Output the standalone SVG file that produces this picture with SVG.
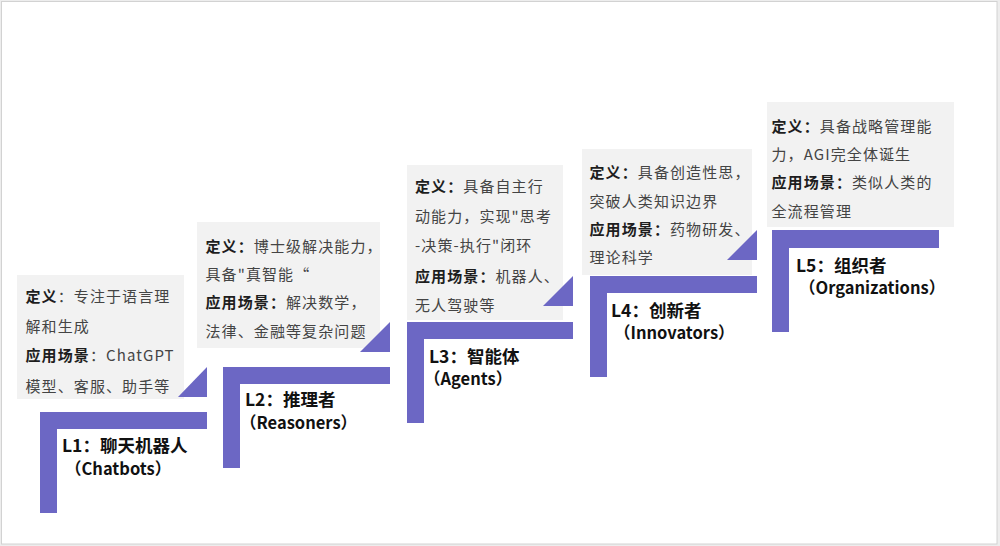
<svg xmlns="http://www.w3.org/2000/svg" width="1000" height="546" viewBox="0 0 1000 546">
<style>
.box{fill:#f2f2f2}
.bar{fill:#6c67c4}
.def{font-family:"Noto Sans CJK SC","Noto Sans",sans-serif;font-size:15px;letter-spacing:1.1px;fill:#444}
.b{font-weight:bold;fill:#1e1e1e}
.lab{font-family:"Noto Sans CJK SC","Noto Sans",sans-serif;font-size:17.5px;font-weight:bold;fill:#111}
.l2{font-size:16.5px}
</style>
<rect x="0" y="0" width="1000" height="546" fill="#ededed"/>
<rect x="1.5" y="1.5" width="995.5" height="542.5" fill="#ffffff" stroke="#d2d2d2" stroke-width="1"/>

<g id="L1">
<rect class="box" x="17" y="275" width="167" height="124"/>
<text class="def" x="25.5" y="302"><tspan class="b">定义</tspan>：专注于语言理</text>
<text class="def" x="25.5" y="332">解和生成</text>
<text class="def" x="25.5" y="361"><tspan class="b">应用场景</tspan>：ChatGPT</text>
<text class="def" x="25.5" y="392">模型、客服、助手等</text>
<path class="bar" d="M40,412 H207 V429 H57 V513 H40 Z"/>
<text class="lab"><tspan x="62" y="452">L1：聊天机器人</tspan><tspan class="l2" x="65" y="475">（Chatbots）</tspan></text>
</g>

<g id="L2">
<rect class="box" x="197" y="222" width="183" height="126"/>
<text class="def" x="205.5" y="252"><tspan class="b">定义：</tspan>博士级解决能力，</text>
<text class="def" x="205.5" y="280">具备"真智能“</text>
<text class="def" x="205.5" y="308"><tspan class="b">应用场景：</tspan>解决数学，</text>
<text class="def" x="205.5" y="337">法律、金融等复杂问题</text>
<path class="bar" d="M223,367 H390 V384 H240 V468 H223 Z"/>
<text class="lab"><tspan x="245" y="406">L2：推理者</tspan><tspan class="l2" x="240" y="429">（Reasoners）</tspan></text>
</g>

<g id="L3">
<rect class="box" x="407" y="165" width="156" height="155"/>
<text class="def" x="415" y="192"><tspan class="b">定义：</tspan>具备自主行</text>
<text class="def" x="415" y="222">动能力，实现"思考</text>
<text class="def" x="415" y="251">-决策-执行"闭环</text>
<text class="def" x="415" y="282"><tspan class="b">应用场景：</tspan>机器人、</text>
<text class="def" x="415" y="311">无人驾驶等</text>
<path class="bar" d="M407,322 H573 V339 H424 V423 H407 Z"/>
<text class="lab"><tspan x="429" y="363">L3：智能体</tspan><tspan class="l2" x="424" y="385">（Agents）</tspan></text>
</g>

<g id="L4">
<rect class="box" x="582" y="149" width="170" height="126"/>
<text class="def" x="589.5" y="178"><tspan class="b">定义：</tspan>具备创造性思，</text>
<text class="def" x="589.5" y="207">突破人类知识边界</text>
<text class="def" x="589.5" y="235"><tspan class="b">应用场景：</tspan>药物研发、</text>
<text class="def" x="589.5" y="263">理论科学</text>
<path class="bar" d="M590,276 H757 V293 H607 V377 H590 Z"/>
<text class="lab"><tspan x="611" y="317">L4：创新者</tspan><tspan class="l2" x="614" y="339">（Innovators）</tspan></text>
</g>

<g id="L5">
<rect class="box" x="767" y="102" width="187" height="125"/>
<text class="def" x="771.5" y="132"><tspan class="b">定义：</tspan>具备战略管理能</text>
<text class="def" x="771.5" y="160">力，AGI完全体诞生</text>
<text class="def" x="771.5" y="188"><tspan class="b">应用场景：</tspan>类似人类的</text>
<text class="def" x="771.5" y="217">全流程管理</text>
<path class="bar" d="M772,230 H939 V248 H789 V332 H772 Z"/>
<text class="lab"><tspan x="796" y="272">L5：组织者</tspan><tspan class="l2" x="799" y="294">（Organizations）</tspan></text>
</g>

<g id="connectors">
<polygon class="bar" points="178,397 207,397 207,367"/>
<polygon class="bar" points="360,352 390,352 390,322"/>
<polygon class="bar" points="543,306 573,306 573,276"/>
<polygon class="bar" points="727,260 757,260 757,230"/>
</g>
</svg>
